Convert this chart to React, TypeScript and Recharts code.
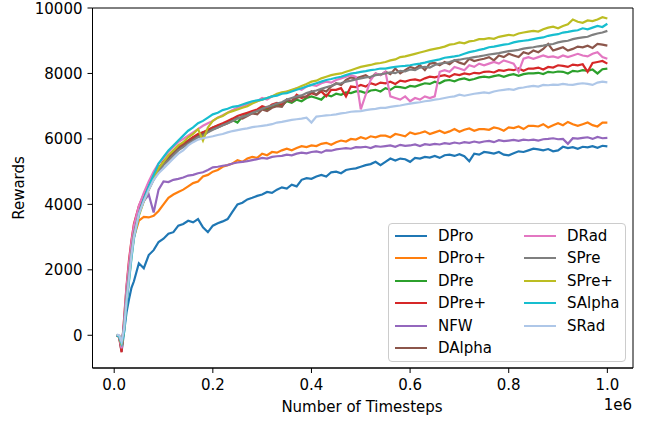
import { LineChart, Line, XAxis, YAxis, ReferenceArea } from "recharts"

// timesteps of the logged evaluations
const steps = [
  5000, 10000, 15000, 20000, 25000, 30000, 35000, 40000,
  50000, 60000, 70000, 80000, 90000, 100000, 110000, 120000, 130000, 140000,
  150000, 160000, 170000, 180000, 190000, 200000, 210000, 220000, 230000, 240000,
  250000, 260000, 270000, 280000, 290000, 300000, 310000, 320000, 330000, 340000,
  350000, 360000, 370000, 380000, 390000, 400000, 410000, 420000, 430000, 440000,
  450000, 460000, 470000, 480000, 490000, 500000, 510000, 520000, 530000, 540000,
  550000, 560000, 570000, 580000, 590000, 600000, 610000, 620000, 630000, 640000,
  650000, 660000, 670000, 680000, 690000, 700000, 710000, 720000, 730000, 740000,
  750000, 760000, 770000, 780000, 790000, 800000, 810000, 820000, 830000, 840000,
  850000, 860000, 870000, 880000, 890000, 900000, 910000, 920000, 930000, 940000,
  950000, 960000, 970000, 980000, 990000, 1000000,
]

const dPro = [
  0, -30, -500, 100, 700, 1100, 1450, 1650,
  2200, 2050, 2450, 2600, 2850, 2950, 3100, 3150, 3350, 3400,
  3500, 3450, 3550, 3300, 3150, 3350, 3420, 3480, 3550, 3780,
  4000, 4050, 4150, 4200, 4260, 4300, 4380, 4350, 4450, 4520,
  4480, 4600, 4550, 4750, 4800, 4780, 4850, 4900, 4850, 4980,
  5000, 4950, 5050, 5080, 5100, 5150, 5200, 5230, 5300, 5200,
  5300, 5400, 5340, 5400, 5380, 5300, 5420, 5400, 5450, 5430,
  5480, 5420, 5500, 5520, 5480, 5530, 5470, 5320, 5550, 5520,
  5600, 5580, 5550, 5600, 5520, 5500, 5560, 5620, 5600, 5650,
  5700, 5680, 5650, 5690, 5620, 5650, 5760, 5720, 5750, 5700,
  5760, 5740, 5780, 5730, 5790, 5770,
]

const dProPlus = [
  0, -30, -380, 250, 1150, 1850, 2500, 3000,
  3500, 3620, 3600, 3650, 3800, 4000, 4200, 4300, 4380, 4450,
  4550, 4650, 4700, 4850, 4900, 5000, 5050, 5150, 5200, 5250,
  5350, 5300, 5400, 5450, 5420, 5550, 5500, 5600, 5580, 5650,
  5700, 5650, 5720, 5780, 5750, 5800, 5780, 5850, 5880, 5820,
  5900, 5950, 5920, 6000, 5980, 6050, 6000, 6080, 6050, 6100,
  6100, 6050, 6150, 6120, 6080, 6200, 6150, 6180, 6230, 6150,
  6200, 6250, 6180, 6230, 6300, 6220, 6280, 6320, 6250, 6300,
  6300, 6280, 6350, 6320, 6250, 6350, 6330, 6380, 6300, 6400,
  6400, 6380, 6450, 6350, 6420, 6480, 6420, 6520, 6450, 6400,
  6450, 6500, 6420, 6380, 6500, 6500,
]

const dPre = [
  0, -30, -380, 300, 1200, 1950, 2600, 3150,
  3800, 4200, 4550, 4850, 5100, 5300, 5450, 5600, 5750, 5850,
  5950, 6050, 6100, 6200, 6250, 6350, 6400, 6450, 6520, 6580,
  6500, 6680, 6750, 6800, 6850, 6950, 6900, 7000, 7050, 7020,
  7150, 7100, 7200, 7150, 7250, 7300, 7250, 7200, 7350, 7300,
  7380, 7350, 7420, 7400, 7450, 7450, 7400, 7480, 7500, 7450,
  7550, 7500, 7600, 7580, 7550, 7620, 7600, 7650, 7700, 7680,
  7750, 7700, 7780, 7800, 7760, 7820, 7850, 7800, 7830, 7880,
  7900, 7880, 7920, 7950, 7900, 7950, 7980, 7930, 7980, 8000,
  8000, 8020, 7980, 8050, 8030, 8060, 8050, 8000, 8080, 8060,
  8100, 8080, 8120, 8000, 8130, 8150,
]

const dPrePlus = [
  0, -60, -520, 500, 1500, 2300, 2900, 3400,
  3950, 4300, 4600, 4900, 5100, 5300, 5450, 5600, 5750, 5850,
  5950, 6050, 6150, 6200, 6280, 6350, 6420, 6480, 6550, 6620,
  6700, 6750, 6800, 6850, 6900, 7000, 6950, 7050, 7100, 7050,
  7200, 7150, 7350, 7250, 7300, 7400, 7350, 7450, 7300, 7500,
  7500, 7550, 7300, 7600, 7580, 7650, 7600, 7700, 7650, 7720,
  7700, 7750, 7680, 7780, 7750, 7800, 7820, 7780, 7850, 7900,
  7880, 7920, 7950, 7900, 7980, 7950, 8000, 7970, 8020, 8000,
  8050, 8060, 8030, 8100, 8080, 8120, 8100, 8150, 8080, 8150,
  8150, 8180, 8120, 8200, 8180, 8250, 8230, 8200, 8270, 8250,
  8280, 8050, 8320, 8350, 8380, 8300,
]

const nfw = [
  0, -30, -350, 300, 1200, 1900, 2600, 3150,
  3750, 4100, 4300, 3750, 4450, 4700, 4680, 4750, 4780, 4820,
  4880, 4900, 4950, 4980, 5050, 5130, 5150, 5180, 5200, 5250,
  5280, 5300, 5320, 5350, 5380, 5420, 5400, 5450, 5470, 5480,
  5520, 5500, 5550, 5580, 5560, 5600, 5620, 5580, 5650, 5640,
  5680, 5700, 5720, 5700, 5750, 5740, 5760, 5720, 5780, 5760,
  5780, 5800, 5760, 5820, 5790, 5800, 5830, 5780, 5840, 5820,
  5850, 5830, 5870, 5850, 5890, 5860, 5900, 5880, 5920, 5890,
  5920, 5940, 5900, 5960, 5930, 5950, 5970, 5940, 5980, 5960,
  5980, 5950, 5990, 6000, 6020, 5990, 6000, 5850, 6020, 6010,
  6030, 6050, 6000, 6060, 6020, 6030,
]

const dAlpha = [
  0, -30, -400, 350, 1300, 2000, 2650, 3200,
  3850, 4200, 4550, 4800, 5050, 5250, 5400, 5550, 5700, 5800,
  5900, 6000, 6080, 6150, 6220, 6300, 6350, 6420, 6480, 6550,
  6650, 6620, 6700, 6780, 6750, 6900, 6850, 6950, 7000, 6980,
  7200, 7150, 7250, 7300, 7280, 7450, 7350, 7500, 7450, 7600,
  7700, 7650, 7800, 7880, 7850, 7900, 7950, 7850, 8000, 7950,
  8050, 7980, 8150, 8000, 8100, 8200, 8150, 8250, 8100, 8300,
  8320, 8250, 8350, 8280, 8400, 8330, 8280, 8450, 8380, 8420,
  8450, 8500, 8400, 8550, 8500, 8600, 8550, 8500, 8650, 8600,
  8700, 8650, 8750, 8900, 8700, 8750, 8800, 8700, 8750, 8820,
  8800, 8850, 8780, 8900, 8880, 8850,
]

const dRad = [
  0, -40, -400, 450, 1450, 2200, 2850, 3350,
  3950, 4350, 4700, 5000, 5250, 5400, 5600, 5750, 5900, 6000,
  6100, 6200, 6300, 6400, 6480, 6550, 6650, 6720, 6800, 6880,
  6950, 7000, 7050, 7100, 7150, 7250, 7200, 7300, 7350, 7400,
  7450, 7480, 7550, 7500, 7600, 7650, 7620, 7700, 7750, 7720,
  7800, 7850, 7900, 7950, 7900, 6900, 7350, 7800, 8000, 7950,
  8050, 7300, 7250, 7200, 7300, 7150, 7250, 7200, 7300, 7250,
  7300, 8050, 8100, 8050, 8200, 8150, 8100, 8250, 8200, 8300,
  8250, 8300, 8350, 8300, 8400, 8350, 8300, 8050, 8450, 8500,
  8450, 8500, 8550, 8500, 8520, 8480, 8550, 8500, 8550, 8600,
  8550, 8520, 8600, 8650, 8500, 8450,
]

const sPre = [
  0, -20, -300, 300, 1200, 1900, 2550, 3100,
  3700, 4100, 4450, 4750, 5000, 5200, 5350, 5500, 5650, 5750,
  5850, 5950, 6050, 6100, 6200, 6280, 6350, 6420, 6480, 6550,
  6620, 6680, 6720, 6800, 6850, 6920, 6980, 7020, 7080, 7120,
  7200, 7250, 7300, 7330, 7400, 7450, 7480, 7530, 7580, 7620,
  7680, 7700, 7750, 7780, 7820, 7850, 7880, 7900, 7950, 7970,
  8000, 8030, 8010, 8080, 8060, 8120, 8100, 8180, 8200, 8180,
  8260, 8300, 8320, 8350, 8400, 8420, 8450, 8470, 8500, 8520,
  8550, 8580, 8600, 8620, 8650, 8680, 8700, 8720, 8760, 8780,
  8800, 8830, 8850, 8880, 8900, 8950, 8980, 9000, 9050, 9080,
  9100, 9120, 9180, 9220, 9250, 9300,
]

const sPrePlus = [
  0, -20, -300, 150, 1000, 1700, 2400, 3000,
  3650, 4100, 4450, 4800, 5100, 5300, 5500, 5650, 5800, 5900,
  6050, 6150, 6300, 5950, 6350, 6550, 6650, 6700, 6800, 6850,
  6900, 6950, 7000, 7080, 7150, 7200, 7250, 7300, 7380, 7420,
  7450, 7500, 7550, 7620, 7680, 7750, 7780, 7850, 7900, 7950,
  7980, 8000, 8050, 8100, 8150, 8200, 8230, 8260, 8300, 8320,
  8350, 8400, 8430, 8500, 8520, 8560, 8600, 8640, 8680, 8720,
  8750, 8780, 8820, 8880, 8900, 8950, 8920, 8980, 9000, 9050,
  9050, 9080, 9060, 9120, 9150, 9180, 9160, 9220, 9250, 9280,
  9300, 9280, 9350, 9400, 9430, 9380, 9450, 9500, 9650, 9580,
  9550, 9620, 9600, 9650, 9720, 9680,
]

const sAlpha = [
  0, -40, -250, 100, 950, 1650, 2350, 2950,
  3700, 4150, 4550, 4900, 5250, 5450, 5650, 5800, 5950, 6100,
  6250, 6350, 6480, 6550, 6650, 6750, 6800, 6880, 6920, 6980,
  7000, 7050, 7100, 7150, 7180, 7200, 7250, 7300, 7320, 7380,
  7400, 7450, 7500, 7550, 7600, 7650, 7700, 7750, 7800, 7830,
  7870, 7900, 7950, 8000, 8020, 8050, 8070, 8100, 8120, 8150,
  8150, 8180, 8200, 8220, 8230, 8250, 8280, 8300, 8330, 8370,
  8400, 8430, 8480, 8500, 8520, 8550, 8600, 8650, 8680, 8720,
  8750, 8800, 8820, 8850, 8880, 8900, 8950, 8980, 9000, 9020,
  9050, 9080, 9100, 9150, 9180, 9200, 9250, 9270, 9300, 9320,
  9380, 9350, 9400, 9450, 9420, 9520,
]

const sRad = [
  20, 0, -200, 200, 1050, 1750, 2450, 3000,
  3700, 4100, 4450, 4750, 4950, 5100, 5250, 5400, 5550, 5650,
  5800, 5900, 5980, 6020, 6050, 6080, 6120, 6150, 6200, 6240,
  6270, 6300, 6320, 6360, 6380, 6400, 6420, 6450, 6500, 6520,
  6550, 6580, 6600, 6620, 6650, 6500, 6680, 6700, 6720, 6730,
  6750, 6780, 6800, 6830, 6840, 6850, 6880, 6900, 6920, 6950,
  6950, 6980, 7000, 7020, 7050, 7080, 7100, 7120, 7150, 7170,
  7200, 7220, 7250, 7280, 7300, 7350, 7320, 7350, 7380, 7400,
  7420, 7400, 7450, 7480, 7500, 7520, 7500, 7550, 7570, 7600,
  7620, 7600, 7650, 7640, 7660, 7650, 7680, 7660, 7650, 7680,
  7700, 7680, 7650, 7720, 7750, 7730,
]

const series = [
  { name: "DPro", color: "#1f77b4", values: dPro },
  { name: "DPro+", color: "#ff7f0e", values: dProPlus },
  { name: "DPre", color: "#2ca02c", values: dPre },
  { name: "DPre+", color: "#d62728", values: dPrePlus },
  { name: "NFW", color: "#9467bd", values: nfw },
  { name: "DAlpha", color: "#8c564b", values: dAlpha },
  { name: "DRad", color: "#e377c2", values: dRad },
  { name: "SPre", color: "#7f7f7f", values: sPre },
  { name: "SPre+", color: "#bcbd22", values: sPrePlus },
  { name: "SAlpha", color: "#17becf", values: sAlpha },
  { name: "SRad", color: "#aec7e8", values: sRad },
]

const xTicks = [0, 200000, 400000, 600000, 800000, 1000000]
const yTicks = [0, 2000, 4000, 6000, 8000, 10000]
const xDomain = [-44000, 1052000]
const yDomain = [-1000, 10000]

const data = steps.map((s, i) => {
  const row: Record<string, number> = { step: s }
  series.forEach((d) => (row[d.name] = d.values[i]))
  return row
})

const font = "'DejaVu Sans', sans-serif"
const tickStyle = { fontSize: 15, fill: "#000", fontFamily: font }

function LegendBox() {
  const col1 = series.slice(0, 6)
  const col2 = series.slice(6)
  const row = (d: { name: string; color: string }, i: number, x: number) => (
    <div key={d.name} style={{ position: "absolute", left: x, top: 1 + i * 22.4, height: 22, display: "flex", alignItems: "center" }}>
      <div style={{ width: 32, height: 2.2, background: d.color }} />
      <span style={{ marginLeft: 11, fontSize: 15, lineHeight: "22px" }}>{d.name}</span>
    </div>
  )
  return (
    <div style={{ position: "absolute", left: 388, top: 223, width: 236, height: 137, border: "1px solid #cccccc", borderRadius: 4, background: "rgba(255,255,255,0.8)", fontFamily: font }}>
      {col1.map((d, i) => row(d, i, 6))}
      {col2.map((d, i) => row(d, i, 135))}
    </div>
  )
}

export default function App() {
  return (
    <div style={{ position: "absolute", left: 0, top: 0, width: 646, height: 422, background: "#fff", fontFamily: font }}>
      <LineChart width={646} height={422} data={data} margin={{ top: 8, right: 13, bottom: 24, left: 0 }}>
        <XAxis dataKey="step" type="number" domain={xDomain} ticks={xTicks} allowDataOverflow
          tickFormatter={(v: number) => (v / 1e6).toFixed(1)} tick={tickStyle} height={30}
          tickSize={5} tickMargin={6} stroke="#000" />
        <YAxis type="number" domain={yDomain} ticks={yTicks} allowDataOverflow tick={tickStyle}
          width={92.5} tickSize={5} tickMargin={5} stroke="#000" />
        {series.map((d) => (
          <Line key={d.name} dataKey={d.name} stroke={d.color} strokeWidth={2.2} dot={false}
            isAnimationActive={false} />
        ))}
        <ReferenceArea x1={xDomain[0]} x2={xDomain[1]} y1={yDomain[0]} y2={yDomain[1]}
          fill="none" fillOpacity={0} stroke="#000" strokeWidth={1} ifOverflow="visible" />
      </LineChart>
      <div style={{ position: "absolute", left: 19, top: 188, transform: "translate(-50%,-50%) rotate(-90deg)", fontSize: 15, whiteSpace: "nowrap" }}>Rewards</div>
      <div style={{ position: "absolute", left: 362, top: 407, transform: "translate(-50%,-50%)", fontSize: 15, whiteSpace: "nowrap" }}>Number of Timesteps</div>
      <div style={{ position: "absolute", right: 14, top: 405, transform: "translateY(-50%)", fontSize: 15 }}>1e6</div>
      <LegendBox />
    </div>
  )
}
